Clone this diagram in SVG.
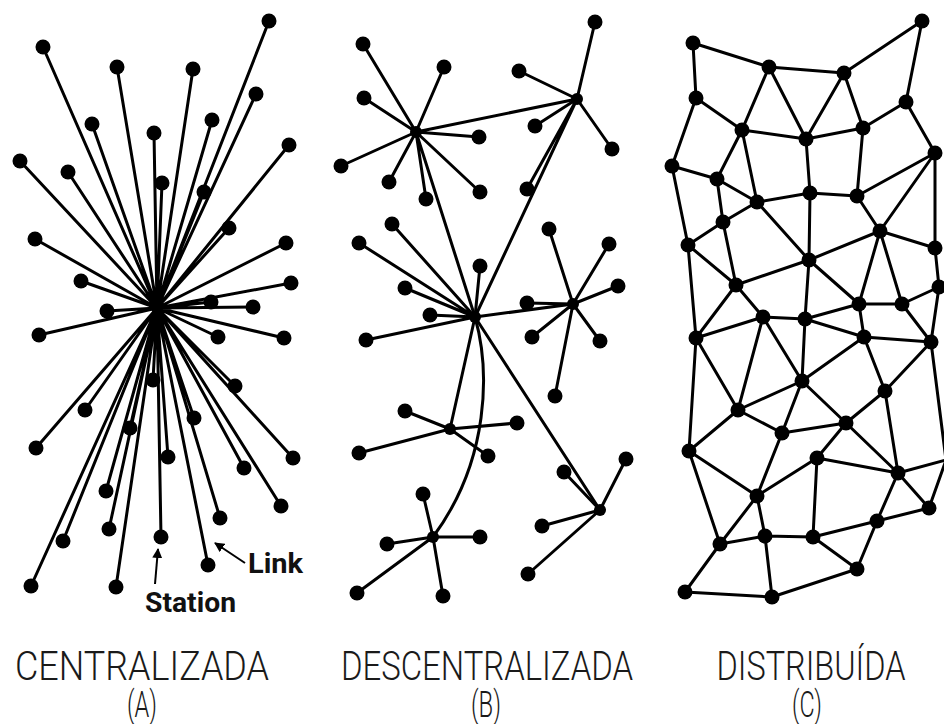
<svg xmlns="http://www.w3.org/2000/svg" width="944" height="724" viewBox="0 0 944 724">
<defs>
<style>
.e{stroke:#000;stroke-width:3;fill:none;stroke-linecap:round}
.n circle{fill:#000}
.lbl{font-family:Roboto,"Liberation Sans",sans-serif;font-weight:300;font-size:40px;fill:#1a1a1a}
.par{font-family:Roboto,"Liberation Sans",sans-serif;font-weight:300;font-size:36px;fill:#1a1a1a}
.ann{font-family:Roboto,"Liberation Sans",sans-serif;font-weight:700;font-size:28px;fill:#111}
.arr{stroke:#000;stroke-width:2;fill:none}
</style>
<marker id="ah" viewBox="0 0 10 10" refX="9" refY="5" markerWidth="5" markerHeight="5" orient="auto" markerUnits="strokeWidth">
<path d="M0,0 L10,5 L0,10 z" fill="#000"/>
</marker>
</defs>
<rect width="944" height="724" fill="#fff"/>

<g id="connectors">
<g id="conn-a">
<path class="e" d="M157,308L43,47M157,308L117,67M157,308L193,69M157,308L269,21M157,308L256,94M157,308L212,120M157,308L92,124M157,308L154,133M157,308L289,145M157,308L20,161M157,308L68,172M157,308L162,183M157,308L204,192M157,308L229,228M157,308L35,239M157,308L286,243M157,308L81,281M157,308L291,283M157,308L107,311M157,308L211,302M157,308L253,307M157,308L39,335M157,308L218,337M157,308L284,338M157,308L153,380M157,308L235,386M157,308L85,410M157,308L194,418M157,308L130,428M157,308L36,448M157,308L168,457M157,308L293,458M157,308L244,468M157,308L106,491M157,308L281,506M157,308L220,518M157,308L109,529M157,308L63,541M157,308L161,537M157,308L208,565M157,308L31,586M157,308L116,587"/>
</g>
<g id="conn-b">
<path class="e" d="M416,132L363,44M416,132L444,67M416,132L364,98M416,132L479,137M416,132L341,166M416,132L389,182M416,132L426,199M416,132L480,192M416,132L577,99M416,132L475,317"/>
<path class="e" d="M577,99L595,22M577,99L519,71M577,99L535,126M577,99L612,149M577,99L527,189M577,99L475,317"/>
<path class="e" d="M475,317L392,224M475,317L359,243M475,317L480,266M475,317L405,288M475,317L430,315M475,317L366,340M475,317L573,304M475,317L450,429M475,317L600,510"/>
<path class="e" d="M475,317C490,370 490,460 433,537"/>
<path class="e" d="M573,304L527,303M573,304L549,229M573,304L609,244M573,304L618,286M573,304L532,337M573,304L600,341M573,304L555,396"/>
<path class="e" d="M450,429L405,411M450,429L517,423M450,429L359,453M450,429L488,456"/>
<path class="e" d="M600,510L626,459M600,510L564,472M600,510L542,526M600,510L528,574"/>
<path class="e" d="M433,537L423,494M433,537L387,544M433,537L480,537M433,537L357,593M433,537L443,596"/>
</g>
<g id="conn-c">
<path class="e" d="M693,43L769,67M693,43L696,98M769,67L844,73M844,73L922,21M922,21L906,102M769,67L742,130M769,67L806,139M844,73L806,139M844,73L863,128M696,98L742,130M696,98L672,166M906,102L863,128M906,102L935,153M742,130L806,139M742,130L717,179M742,130L757,202M806,139L863,128M806,139L810,193M863,128L857,196M672,166L717,179M717,179L757,202M757,202L810,193M810,193L857,196M857,196L935,153"/>
<path class="e" d="M935,153L880,231M935,153L935,248M672,166L688,245M717,179L723,222M757,202L723,222M757,202L809,260M810,193L809,260M857,196L880,231"/>
<path class="e" d="M723,222L688,245M723,222L736,285M688,245L736,285M688,245L696,338M736,285L809,260M809,260L880,231M809,260L859,304M809,260L805,319M880,231L935,248M880,231L859,304M880,231L902,304M935,248L939,287M902,304L939,287M859,304L902,304M859,304L864,337M902,304L931,342M939,287L931,342M736,285L763,317M736,285L696,338M763,317L805,319M763,317L696,338M805,319L859,304M805,319L864,337M864,337L931,342M763,317L802,381M763,317L738,410M805,319L802,381M864,337L802,381M864,337L885,391M931,342L885,391M696,338L738,410M802,381L738,410M802,381L846,423M802,381L782,433"/>
<path class="e" d="M885,391L846,423M885,391L898,473M931,342L946,460M898,473L946,460M929,508L946,460"/>
<path class="e" d="M696,338L689,451M738,410L689,451M738,410L782,433M782,433L846,423M782,433L757,496M846,423L817,458M846,423L898,473M689,451L757,496M689,451L720,544M817,458L898,473M817,458L757,496M817,458L813,537M898,473L929,508M898,473L877,521M929,508L877,521M757,496L720,544M757,496L765,536M720,544L765,536M765,536L813,537M813,537L877,521M813,537L857,569M877,521L857,569M720,544L685,592M765,536L772,597M685,592L772,597M772,597L857,569"/>
</g>
<g id="conn-ann">
<line class="arr" x1="155" y1="584" x2="158" y2="549" marker-end="url(#ah)"/>
<line class="arr" x1="245" y1="563" x2="215" y2="543" marker-end="url(#ah)"/>
</g>
</g>

<g id="nodes-a" class="n">
<g id="a-hub"><circle cx="157" cy="308" r="6"/></g>
<g id="a1"><circle cx="43" cy="47" r="7.5"/></g>
<g id="a2"><circle cx="117" cy="67" r="7.5"/></g>
<g id="a3"><circle cx="193" cy="69" r="7.5"/></g>
<g id="a4"><circle cx="269" cy="21" r="7.5"/></g>
<g id="a5"><circle cx="256" cy="94" r="7.5"/></g>
<g id="a6"><circle cx="212" cy="120" r="7.5"/></g>
<g id="a7"><circle cx="92" cy="124" r="7.5"/></g>
<g id="a8"><circle cx="154" cy="133" r="7.5"/></g>
<g id="a9"><circle cx="289" cy="145" r="7.5"/></g>
<g id="a10"><circle cx="20" cy="161" r="7.5"/></g>
<g id="a11"><circle cx="68" cy="172" r="7.5"/></g>
<g id="a12"><circle cx="162" cy="183" r="7.5"/></g>
<g id="a13"><circle cx="204" cy="192" r="7.5"/></g>
<g id="a14"><circle cx="229" cy="228" r="7.5"/></g>
<g id="a15"><circle cx="35" cy="239" r="7.5"/></g>
<g id="a16"><circle cx="286" cy="243" r="7.5"/></g>
<g id="a17"><circle cx="81" cy="281" r="7.5"/></g>
<g id="a18"><circle cx="291" cy="283" r="7.5"/></g>
<g id="a19"><circle cx="107" cy="311" r="7.5"/></g>
<g id="a20"><circle cx="211" cy="302" r="7.5"/></g>
<g id="a21"><circle cx="253" cy="307" r="7.5"/></g>
<g id="a22"><circle cx="39" cy="335" r="7.5"/></g>
<g id="a23"><circle cx="218" cy="337" r="7.5"/></g>
<g id="a24"><circle cx="284" cy="338" r="7.5"/></g>
<g id="a25"><circle cx="153" cy="380" r="7.5"/></g>
<g id="a26"><circle cx="235" cy="386" r="7.5"/></g>
<g id="a27"><circle cx="85" cy="410" r="7.5"/></g>
<g id="a28"><circle cx="194" cy="418" r="7.5"/></g>
<g id="a29"><circle cx="130" cy="428" r="7.5"/></g>
<g id="a30"><circle cx="36" cy="448" r="7.5"/></g>
<g id="a31"><circle cx="168" cy="457" r="7.5"/></g>
<g id="a32"><circle cx="293" cy="458" r="7.5"/></g>
<g id="a33"><circle cx="244" cy="468" r="7.5"/></g>
<g id="a34"><circle cx="106" cy="491" r="7.5"/></g>
<g id="a35"><circle cx="281" cy="506" r="7.5"/></g>
<g id="a36"><circle cx="220" cy="518" r="7.5"/></g>
<g id="a37"><circle cx="109" cy="529" r="7.5"/></g>
<g id="a38"><circle cx="63" cy="541" r="7.5"/></g>
<g id="a39"><circle cx="161" cy="537" r="7.5"/></g>
<g id="a40"><circle cx="208" cy="565" r="7.5"/></g>
<g id="a41"><circle cx="31" cy="586" r="7.5"/></g>
<g id="a42"><circle cx="116" cy="587" r="7.5"/></g>
</g>

<g id="nodes-b" class="n">
<g id="b-hub1"><circle cx="416" cy="132" r="6"/></g>
<g id="b-hub2"><circle cx="577" cy="99" r="6"/></g>
<g id="b-hub3"><circle cx="475" cy="317" r="6"/></g>
<g id="b-hub4"><circle cx="573" cy="304" r="6"/></g>
<g id="b-hub5"><circle cx="450" cy="429" r="6"/></g>
<g id="b-hub6"><circle cx="600" cy="510" r="6"/></g>
<g id="b-hub7"><circle cx="433" cy="537" r="6"/></g>
<g id="b1"><circle cx="363" cy="44" r="7.5"/></g>
<g id="b2"><circle cx="444" cy="67" r="7.5"/></g>
<g id="b3"><circle cx="364" cy="98" r="7.5"/></g>
<g id="b4"><circle cx="479" cy="137" r="7.5"/></g>
<g id="b5"><circle cx="341" cy="166" r="7.5"/></g>
<g id="b6"><circle cx="389" cy="182" r="7.5"/></g>
<g id="b7"><circle cx="426" cy="199" r="7.5"/></g>
<g id="b8"><circle cx="480" cy="192" r="7.5"/></g>
<g id="b9"><circle cx="595" cy="22" r="7.5"/></g>
<g id="b10"><circle cx="519" cy="71" r="7.5"/></g>
<g id="b11"><circle cx="535" cy="126" r="7.5"/></g>
<g id="b12"><circle cx="612" cy="149" r="7.5"/></g>
<g id="b13"><circle cx="527" cy="189" r="7.5"/></g>
<g id="b14"><circle cx="392" cy="224" r="7.5"/></g>
<g id="b15"><circle cx="359" cy="243" r="7.5"/></g>
<g id="b16"><circle cx="480" cy="266" r="7.5"/></g>
<g id="b17"><circle cx="405" cy="288" r="7.5"/></g>
<g id="b18"><circle cx="430" cy="315" r="7.5"/></g>
<g id="b19"><circle cx="366" cy="340" r="7.5"/></g>
<g id="b20"><circle cx="549" cy="229" r="7.5"/></g>
<g id="b21"><circle cx="609" cy="244" r="7.5"/></g>
<g id="b22"><circle cx="618" cy="286" r="7.5"/></g>
<g id="b23"><circle cx="527" cy="303" r="7.5"/></g>
<g id="b24"><circle cx="532" cy="337" r="7.5"/></g>
<g id="b25"><circle cx="600" cy="341" r="7.5"/></g>
<g id="b26"><circle cx="555" cy="396" r="7.5"/></g>
<g id="b27"><circle cx="405" cy="411" r="7.5"/></g>
<g id="b28"><circle cx="517" cy="423" r="7.5"/></g>
<g id="b29"><circle cx="359" cy="453" r="7.5"/></g>
<g id="b30"><circle cx="488" cy="456" r="7.5"/></g>
<g id="b31"><circle cx="626" cy="459" r="7.5"/></g>
<g id="b32"><circle cx="564" cy="472" r="7.5"/></g>
<g id="b33"><circle cx="542" cy="526" r="7.5"/></g>
<g id="b34"><circle cx="528" cy="574" r="7.5"/></g>
<g id="b35"><circle cx="423" cy="494" r="7.5"/></g>
<g id="b36"><circle cx="387" cy="544" r="7.5"/></g>
<g id="b37"><circle cx="480" cy="537" r="7.5"/></g>
<g id="b38"><circle cx="357" cy="593" r="7.5"/></g>
<g id="b39"><circle cx="443" cy="596" r="7.5"/></g>
</g>

<g id="nodes-c" class="n">
<g id="c1"><circle cx="693" cy="43" r="7.5"/></g>
<g id="c2"><circle cx="769" cy="67" r="7.5"/></g>
<g id="c3"><circle cx="844" cy="73" r="7.5"/></g>
<g id="c4"><circle cx="922" cy="21" r="7.5"/></g>
<g id="c5"><circle cx="696" cy="98" r="7.5"/></g>
<g id="c6"><circle cx="906" cy="102" r="7.5"/></g>
<g id="c7"><circle cx="742" cy="130" r="7.5"/></g>
<g id="c8"><circle cx="806" cy="139" r="7.5"/></g>
<g id="c9"><circle cx="863" cy="128" r="7.5"/></g>
<g id="c10"><circle cx="935" cy="153" r="7.5"/></g>
<g id="c11"><circle cx="672" cy="166" r="7.5"/></g>
<g id="c12"><circle cx="717" cy="179" r="7.5"/></g>
<g id="c13"><circle cx="757" cy="202" r="7.5"/></g>
<g id="c14"><circle cx="810" cy="193" r="7.5"/></g>
<g id="c15"><circle cx="857" cy="196" r="7.5"/></g>
<g id="d1"><circle cx="723" cy="222" r="7.5"/></g>
<g id="d2"><circle cx="688" cy="245" r="7.5"/></g>
<g id="d3"><circle cx="809" cy="260" r="7.5"/></g>
<g id="d4"><circle cx="880" cy="231" r="7.5"/></g>
<g id="d5"><circle cx="935" cy="248" r="7.5"/></g>
<g id="d6"><circle cx="736" cy="285" r="7.5"/></g>
<g id="d7"><circle cx="939" cy="287" r="7.5"/></g>
<g id="d8"><circle cx="859" cy="304" r="7.5"/></g>
<g id="d9"><circle cx="902" cy="304" r="7.5"/></g>
<g id="d10"><circle cx="763" cy="317" r="7.5"/></g>
<g id="d11"><circle cx="805" cy="319" r="7.5"/></g>
<g id="d12"><circle cx="696" cy="338" r="7.5"/></g>
<g id="d13"><circle cx="864" cy="337" r="7.5"/></g>
<g id="d14"><circle cx="931" cy="342" r="7.5"/></g>
<g id="d15"><circle cx="802" cy="381" r="7.5"/></g>
<g id="d16"><circle cx="885" cy="391" r="7.5"/></g>
<g id="d17"><circle cx="738" cy="410" r="7.5"/></g>
<g id="d18"><circle cx="846" cy="423" r="7.5"/></g>
<g id="e1"><circle cx="782" cy="433" r="7.5"/></g>
<g id="e2"><circle cx="689" cy="451" r="7.5"/></g>
<g id="e3"><circle cx="817" cy="458" r="7.5"/></g>
<g id="e4"><circle cx="898" cy="473" r="7.5"/></g>
<g id="e5"><circle cx="757" cy="496" r="7.5"/></g>
<g id="e6"><circle cx="929" cy="508" r="7.5"/></g>
<g id="e7"><circle cx="877" cy="521" r="7.5"/></g>
<g id="e8"><circle cx="720" cy="544" r="7.5"/></g>
<g id="e9"><circle cx="765" cy="536" r="7.5"/></g>
<g id="e10"><circle cx="813" cy="537" r="7.5"/></g>
<g id="e11"><circle cx="857" cy="569" r="7.5"/></g>
<g id="e12"><circle cx="685" cy="592" r="7.5"/></g>
<g id="e13"><circle cx="772" cy="597" r="7.5"/></g>
</g>

<g id="annotations">
<text class="ann" x="248" y="573" textLength="55" lengthAdjust="spacingAndGlyphs">Link</text>
<text class="ann" x="145" y="612" textLength="91" lengthAdjust="spacingAndGlyphs">Station</text>
</g>

<g id="labels">
<text class="lbl" x="142" y="680" text-anchor="middle" textLength="254" lengthAdjust="spacingAndGlyphs">CENTRALIZADA</text>
<text class="par" x="142" y="717" text-anchor="middle" textLength="30" lengthAdjust="spacingAndGlyphs">(A)</text>
<text class="lbl" x="487" y="680" text-anchor="middle" textLength="292" lengthAdjust="spacingAndGlyphs">DESCENTRALIZADA</text>
<text class="par" x="486" y="717" text-anchor="middle" textLength="30" lengthAdjust="spacingAndGlyphs">(B)</text>
<text class="lbl" x="811" y="680" text-anchor="middle" textLength="189" lengthAdjust="spacingAndGlyphs">DISTRIBUÍDA</text>
<text class="par" x="807" y="717" text-anchor="middle" textLength="30" lengthAdjust="spacingAndGlyphs">(C)</text>
</g>
</svg>
